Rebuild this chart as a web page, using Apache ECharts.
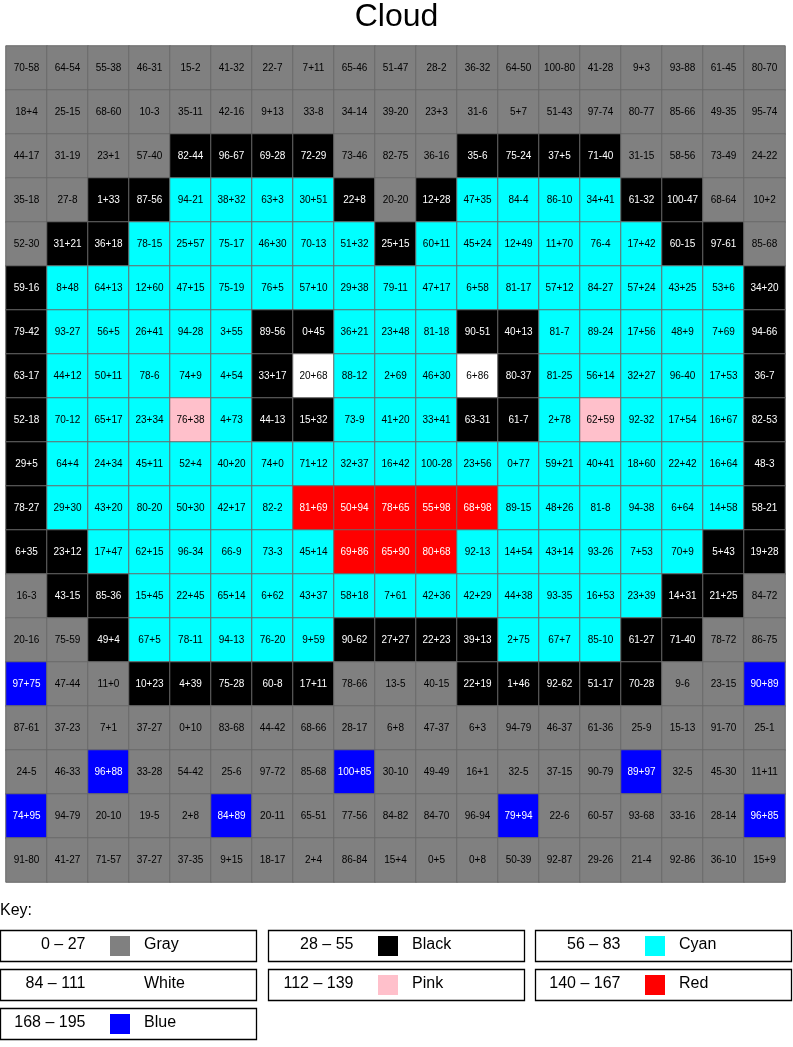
<!DOCTYPE html>
<html>
<head>
<meta charset="utf-8">
<style>
html,body{margin:0;padding:0;background:#fff;}
#chart{width:793px;height:1047px;}
</style>
<script src="https://cdn.jsdelivr.net/npm/echarts@6/dist/echarts.min.js"></script>
</head>
<body>
<div id="chart"></div>
<script>
// ---- Data: cell expressions, row by row (top to bottom) ----
const row01 = ["70-58","64-54","55-38","46-31","15-2","41-32","22-7","7+11","65-46","51-47","28-2","36-32","64-50","100-80","41-28","9+3","93-88","61-45","80-70"];
const row02 = ["18+4","25-15","68-60","10-3","35-11","42-16","9+13","33-8","34-14","39-20","23+3","31-6","5+7","51-43","97-74","80-77","85-66","49-35","95-74"];
const row03 = ["44-17","31-19","23+1","57-40","82-44","96-67","69-28","72-29","73-46","82-75","36-16","35-6","75-24","37+5","71-40","31-15","58-56","73-49","24-22"];
const row04 = ["35-18","27-8","1+33","87-56","94-21","38+32","63+3","30+51","22+8","20-20","12+28","47+35","84-4","86-10","34+41","61-32","100-47","68-64","10+2"];
const row05 = ["52-30","31+21","36+18","78-15","25+57","75-17","46+30","70-13","51+32","25+15","60+11","45+24","12+49","11+70","76-4","17+42","60-15","97-61","85-68"];
const row06 = ["59-16","8+48","64+13","12+60","47+15","75-19","76+5","57+10","29+38","79-11","47+17","6+58","81-17","57+12","84-27","57+24","43+25","53+6","34+20"];
const row07 = ["79-42","93-27","56+5","26+41","94-28","3+55","89-56","0+45","36+21","23+48","81-18","90-51","40+13","81-7","89-24","17+56","48+9","7+69","94-66"];
const row08 = ["63-17","44+12","50+11","78-6","74+9","4+54","33+17","20+68","88-12","2+69","46+30","6+86","80-37","81-25","56+14","32+27","96-40","17+53","36-7"];
const row09 = ["52-18","70-12","65+17","23+34","76+38","4+73","44-13","15+32","73-9","41+20","33+41","63-31","61-7","2+78","62+59","92-32","17+54","16+67","82-53"];
const row10 = ["29+5","64+4","24+34","45+11","52+4","40+20","74+0","71+12","32+37","16+42","100-28","23+56","0+77","59+21","40+41","18+60","22+42","16+64","48-3"];
const row11 = ["78-27","29+30","43+20","80-20","50+30","42+17","82-2","81+69","50+94","78+65","55+98","68+98","89-15","48+26","81-8","94-38","6+64","14+58","58-21"];
const row12 = ["6+35","23+12","17+47","62+15","96-34","66-9","73-3","45+14","69+86","65+90","80+68","92-13","14+54","43+14","93-26","7+53","70+9","5+43","19+28"];
const row13 = ["16-3","43-15","85-36","15+45","22+45","65+14","6+62","43+37","58+18","7+61","42+36","42+29","44+38","93-35","16+53","23+39","14+31","21+25","84-72"];
const row14 = ["20-16","75-59","49+4","67+5","78-11","94-13","76-20","9+59","90-62","27+27","22+23","39+13","2+75","67+7","85-10","61-27","71-40","78-72","86-75"];
const row15 = ["97+75","47-44","11+0","10+23","4+39","75-28","60-8","17+11","78-66","13-5","40-15","22+19","1+46","92-62","51-17","70-28","9-6","23-15","90+89"];
const row16 = ["87-61","37-23","7+1","37-27","0+10","83-68","44-42","68-66","28-17","6+8","47-37","6+3","94-79","46-37","61-36","25-9","15-13","91-70","25-1"];
const row17 = ["24-5","46-33","96+88","33-28","54-42","25-6","97-72","85-68","100+85","30-10","49-49","16+1","32-5","37-15","90-79","89+97","32-5","45-30","11+11"];
const row18 = ["74+95","94-79","20-10","19-5","2+8","84+89","20-11","65-51","77-56","84-82","84-70","96-94","79+94","22-6","60-57","93-68","33-16","28-14","96+85"];
const row19 = ["91-80","41-27","71-57","37-27","37-35","9+15","18-17","2+4","86-84","15+4","0+5","0+8","50-39","92-87","29-26","21-4","92-86","36-10","15+9"];

// ---- Key bins ----
const binMins   = [0, 28, 56, 84, 112, 140, 168];
const binMaxs   = [27, 55, 83, 111, 139, 167, 195];
const binNames  = ["Gray", "Black", "Cyan", "White", "Pink", "Red", "Blue"];
const binColors = ["#808080", "#000000", "#00ffff", "#ffffff", "#ffc0cb", "#ff0000", "#0000ff"];
const binText   = ["#000000", "#ffffff", "#000000", "#000000", "#000000", "#ffffff", "#ffffff"];

const titleText = "Cloud";
const keyTitle = "Key:";

// ---- Build ----
const rows = [row01,row02,row03,row04,row05,row06,row07,row08,row09,row10,row11,row12,row13,row14,row15,row16,row17,row18,row19];
const nCols = row01.length, nRows = rows.length;
const xCats = Array.from({length:nCols}, (_, i) => String(i));
const yCats = Array.from({length:nRows}, (_, i) => String(i));

function evalExpr(s) {
  const m = s.match(/^(\d+)([+-])(\d+)$/);
  const a = +m[1], b = +m[3];
  return m[2] === '+' ? a + b : a - b;
}
function binOf(v) {
  for (let i = 0; i < binMins.length; i++) if (v >= binMins[i] && v <= binMaxs[i]) return i;
  return 0;
}

const FONT = '"Liberation Sans", Arial, Helvetica, sans-serif';
const data = [];
rows.forEach((r, ri) => {
  r.forEach((expr, ci) => {
    const v = evalExpr(expr);
    const b = binOf(v);
    data.push({
      value: [ci, ri, v],
      expr: expr,
      itemStyle: { color: binColors[b], borderColor: '#6a6a6a', borderWidth: 1 },
      label: { color: binText[b] }
    });
  });
});

// Key graphics
const graphics = [{
  type: 'text', x: 0, y: 911,
  style: { text: keyTitle, font: '16px ' + FONT, fill: '#000', textAlign: 'left', textVerticalAlign: 'middle', verticalAlign: 'middle' }
}];
binNames.forEach((name, i) => {
  const col = i % 3, row = Math.floor(i / 3);
  const bx = Math.round(1 + col * 267.7) - 0.5;
  const by = 930.5 + row * 39;
  const cy = by + 14.5;
  graphics.push({
    type: 'rect', shape: { x: bx, y: by, width: 256, height: 31 },
    style: { fill: 'none', stroke: '#000', lineWidth: 1.3 }
  });
  graphics.push({
    type: 'text', x: bx + 85, y: cy,
    style: { text: binMins[i] + ' \u2013 ' + binMaxs[i], font: '16px ' + FONT, fill: '#000', textAlign: 'right', textVerticalAlign: 'middle', verticalAlign: 'middle' }
  });
  graphics.push({
    type: 'rect', shape: { x: bx + 109.5, y: by + 5.5, width: 20, height: 20 },
    style: { fill: binColors[i], stroke: null }
  });
  graphics.push({
    type: 'text', x: bx + 143.5, y: cy,
    style: { text: name, font: '16px ' + FONT, fill: '#000', textAlign: 'left', textVerticalAlign: 'middle', verticalAlign: 'middle' }
  });
});

const chart = echarts.init(document.getElementById('chart'), null, { renderer: 'canvas' });
chart.setOption({
  animation: false,
  backgroundColor: '#ffffff',
  title: {
    text: titleText, left: 'center', top: -4,
    textStyle: { fontSize: 32, fontWeight: 'normal', color: '#000', fontFamily: FONT }
  },
  tooltip: { show: false },
  grid: { left: 6, top: 46, width: 779, height: 836, containLabel: false },
  xAxis: {
    type: 'category', data: xCats, position: 'top',
    axisLine: { show: false }, axisTick: { show: false }, axisLabel: { show: false }, splitLine: { show: false }
  },
  yAxis: {
    type: 'category', data: yCats, inverse: true,
    axisLine: { show: false }, axisTick: { show: false }, axisLabel: { show: false }, splitLine: { show: false }
  },
  series: [{
    type: 'heatmap',
    data: data,
    label: {
      show: true,
      fontSize: 10,
      fontFamily: FONT,
      formatter: p => p.data.expr
    },
    emphasis: { disabled: true }
  }],
  graphic: graphics
});
</script>
</body>
</html>
